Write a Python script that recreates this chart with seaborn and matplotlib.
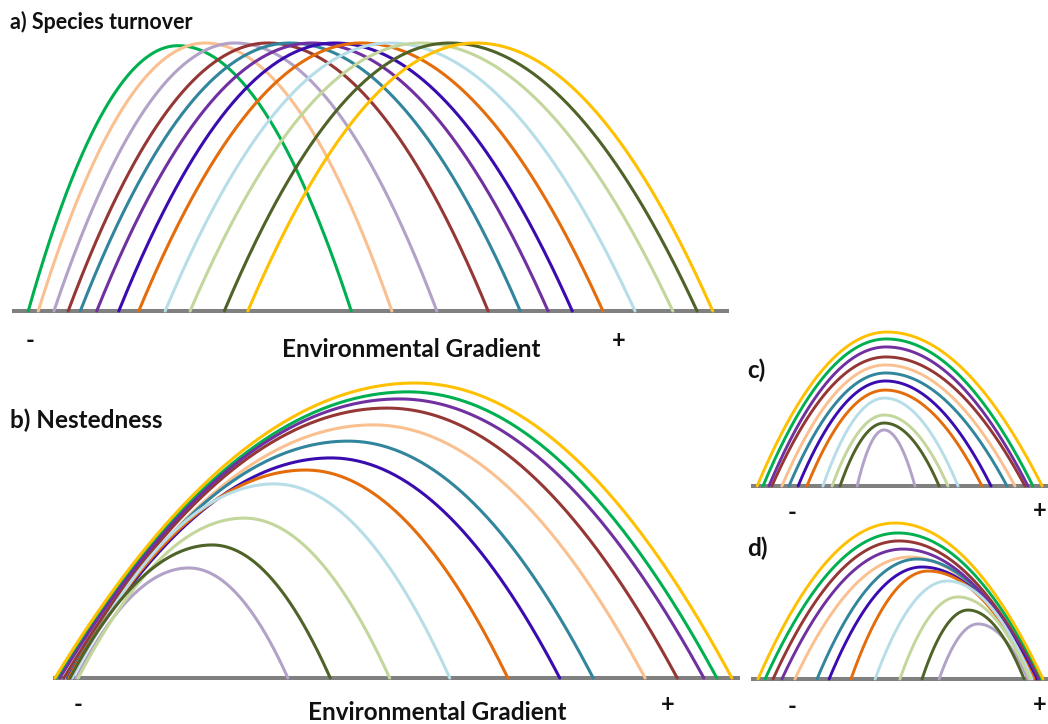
import numpy as np
import pandas as pd
import matplotlib
matplotlib.use("Agg")
import matplotlib.pyplot as plt
import seaborn as sns

# Twelve species, each drawn as a unimodal response curve along an environmental gradient
species = ["sp01", "sp02", "sp03", "sp04", "sp05", "sp06",
           "sp07", "sp08", "sp09", "sp10", "sp11", "sp12"]
colors = ["#00B050", "#FAC090", "#B3A2C7", "#953735", "#31859C", "#7030A0",
          "#3A0CB0", "#E46C0A", "#B7DEE8", "#C3D69B", "#4F6228", "#FFC000"]

# Gradient positions are in percent of the gradient length, abundance relative to the panel maximum.
# a) Species turnover: equal peaks shifting along the gradient
a_start = [2.0, 3.4, 5.6, 7.6, 9.3, 11.6, 14.7, 17.5, 21.2, 24.7, 29.5, 32.8]
a_opt   = [23.0, 26.8, 31.0, 35.6, 38.7, 41.8, 45.0, 48.7, 52.7, 57.1, 61.1, 64.8]
a_end   = [47.3, 53.0, 59.3, 66.5, 71.0, 74.9, 78.3, 82.6, 87.1, 92.4, 95.8, 98.0]
a_peak  = [0.99, 1.0, 1.0, 1.0, 1.0, 1.0, 1.0, 1.0, 1.0, 1.0, 1.0, 1.0]

# b) Nestedness: curves sharing the low end, truncated at successively shorter ranges
b_start = [0.3, 1.6, 3.1, 1.3, 1.8, 0.7, 1.9, 2.0, 2.5, 3.4, 2.2, 0.0]
b_opt   = [51.7, 46.6, 19.6, 48.6, 42.9, 50.4, 40.4, 36.7, 32.1, 27.7, 23.0, 52.7]
b_end   = [96.9, 86.4, 34.1, 91.1, 78.8, 95.0, 73.9, 66.3, 57.8, 49.0, 40.3, 99.1]
b_peak  = [0.97, 0.858, 0.373, 0.915, 0.803, 0.946, 0.746, 0.705, 0.658, 0.542, 0.451, 1.0]

# c) Curves nested around a common optimum
c_start = [3.4, 9.8, 35.3, 6.4, 12.2, 5.4, 15.3, 18.3, 23.7, 26.8, 29.5, 1.4]
c_opt   = [45.2, 44.9, 44.4, 45.1, 45.0, 45.1, 44.9, 44.8, 44.6, 44.5, 44.5, 45.4]
c_end   = [94.9, 88.8, 54.9, 92.2, 86.1, 93.2, 80.7, 77.6, 69.5, 66.1, 63.1, 98.0]
c_peak  = [0.955, 0.786, 0.364, 0.838, 0.734, 0.903, 0.682, 0.623, 0.571, 0.461, 0.409, 1.0]

# d) Curves nested toward the high end of the gradient
d_start = [4.1, 14.2, 63.1, 6.8, 21.7, 9.8, 25.8, 33.2, 41.4, 49.8, 57.3, 1.7]
d_opt   = [49.2, 53.2, 76.3, 49.5, 55.6, 50.8, 57.3, 59.3, 65.8, 69.5, 72.9, 48.1]
d_end   = [97.6, 95.6, 93.2, 96.9, 95.6, 96.6, 95.9, 95.3, 94.6, 93.9, 91.9, 98.3]
d_peak  = [0.936, 0.782, 0.353, 0.885, 0.769, 0.833, 0.718, 0.692, 0.628, 0.526, 0.442, 1.0]

W, H = 1048, 724
palette = dict(zip(species, colors))


def response_table(start, opt, end, peak, n=240):
    """Long table of quadratic response curves, one per species."""
    rows = []
    for sp, s, o, e, p in zip(species, start, opt, end, peak):
        x = np.linspace(s, e, n)
        t = np.where(x < o, (x - o) / (o - s), (x - o) / (e - o))
        y = p * (1 - t ** 2)
        rows.append(pd.DataFrame({"gradient": x, "abundance": y, "species": sp}))
    return pd.concat(rows, ignore_index=True)


def panel_axes(fig, x0, x1, y_base, y_top):
    ax = fig.add_axes([x0 / W, 1 - y_base / H, (x1 - x0) / W, (y_base - y_top) / H])
    ax.set_xlim(0, 100)
    ax.set_ylim(0, 1)
    for side in ("top", "left", "right"):
        ax.spines[side].set_visible(False)
    ax.spines["bottom"].set_color("#808080")
    ax.spines["bottom"].set_linewidth(2.9)
    ax.spines["bottom"].set_zorder(1)
    ax.set_xticks([])
    ax.set_yticks([])
    ax.patch.set_alpha(0)
    return ax


def draw_panel(ax, table, lw):
    sns.lineplot(data=table, x="gradient", y="abundance", hue="species",
                 hue_order=species, palette=palette, sort=False, estimator=None,
                 units="species", legend=False, linewidth=lw, ax=ax,
                 clip_on=False, zorder=3)
    ax.set_xlabel("")
    ax.set_ylabel("")


sns.set_theme(style="white")
plt.rcParams["font.family"] = ["Lato", "DejaVu Sans"]

fig = plt.figure(figsize=(W / 100, H / 100), dpi=100)
fig.patch.set_facecolor("white")

ax_a = panel_axes(fig, 14, 727, 311, 43)
draw_panel(ax_a, response_table(a_start, a_opt, a_end, a_peak), 2.2)

ax_b = panel_axes(fig, 55, 738, 678, 383)
draw_panel(ax_b, response_table(b_start, b_opt, b_end, b_peak), 2.2)

ax_c = panel_axes(fig, 753, 1048, 486, 332)
draw_panel(ax_c, response_table(c_start, c_opt, c_end, c_peak), 2.1)

ax_d = panel_axes(fig, 753, 1048, 679, 523)
draw_panel(ax_d, response_table(d_start, d_opt, d_end, d_peak), 2.1)


def label(px, py, s, size=14, ha="left"):
    fig.text(px / W, 1 - py / H, s, ha=ha, va="center", fontsize=size,
             fontweight="bold", color="#111111")


label(10, 22, "a) Species turnover", size=15.5)
label(10, 420, "b) Nestedness", size=17.5)
label(747, 370, "c)", size=17.5)
label(747, 548, "d)", size=17.5)

label(30, 340, "-", size=17, ha="center")
label(619, 340, "+", size=17, ha="center")
label(411, 349, "Environmental Gradient", size=17.5, ha="center")

label(78, 705, "-", size=17, ha="center")
label(668, 705, "+", size=17, ha="center")
label(437, 712, "Environmental Gradient", size=17.5, ha="center")

label(792, 512, "-", size=17, ha="center")
label(1040, 510, "+", size=17, ha="center")
label(792, 706, "-", size=17, ha="center")
label(1040, 705, "+", size=17, ha="center")

fig.savefig("out.png", dpi=100, facecolor="white")
